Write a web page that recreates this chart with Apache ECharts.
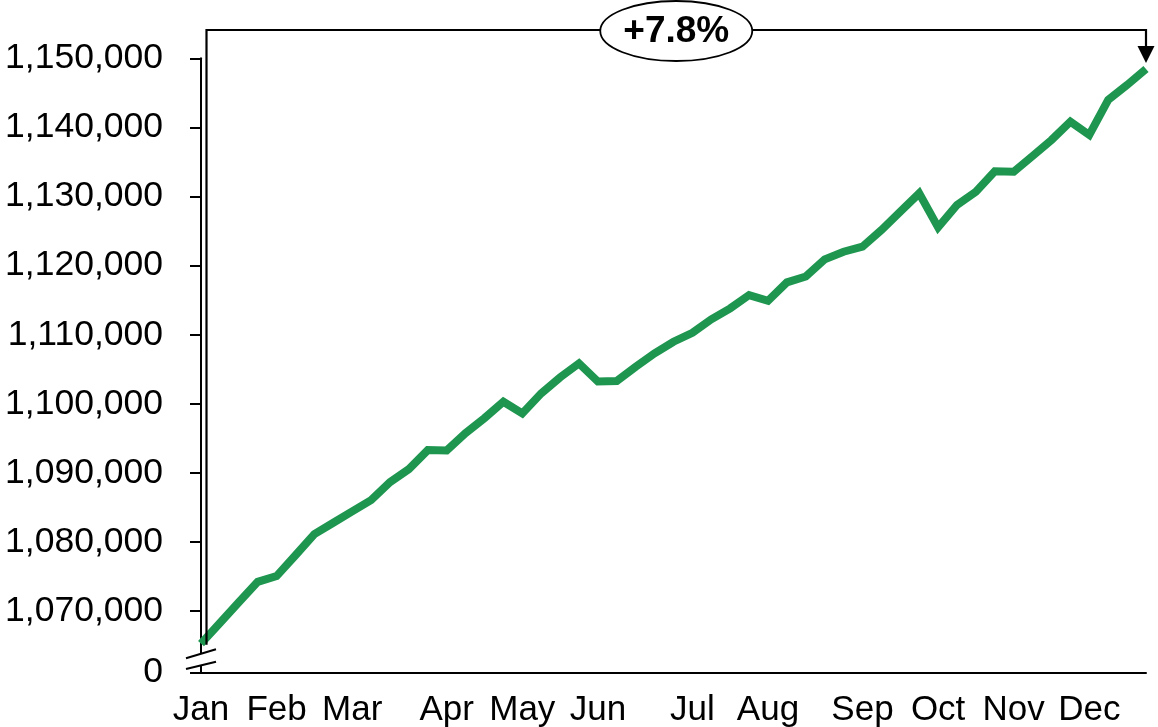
<!DOCTYPE html>
<html><head><meta charset="utf-8">
<script src="https://cdn.jsdelivr.net/npm/echarts@6/dist/echarts.min.js"></script>
<style>html,body{margin:0;padding:0;background:#fff}#c{width:1158px;height:727px}</style>
</head><body><div id="c"></div>
<script>
// Weekly values (51 weeks)
const values = [
  1065300, 1068300, 1071300, 1074250, 1075080, 1078100, 1081160, 1082800, 1084440, 1086080,
  1088680, 1090560, 1093310, 1093250, 1095770, 1097940, 1100300, 1098620, 1101520, 1103830,
  1105860, 1103230, 1103300, 1105370, 1107310, 1108990, 1110290, 1112230, 1113820, 1115740,
  1114920, 1117580, 1118420, 1120910, 1122010, 1122740, 1125150, 1127800, 1130460, 1125540,
  1128770, 1130690, 1133650, 1133590, 1135860, 1138180, 1140820, 1138900, 1143970, 1146140,
  1148450
];
const monthLabels = ['Jan','Feb','Mar','Apr','May','Jun','Jul','Aug','Sep','Oct','Nov','Dec'];
const monthWeekIndex = [0, 4, 8, 13, 17, 21, 26, 30, 35, 39, 43, 47];
const yTickValues = [1070000, 1080000, 1090000, 1100000, 1110000, 1120000, 1130000, 1140000, 1150000];
const yAxisBottom = 1061100; // drawn as "0" on the broken axis
const yAxisTop = 1150000;

const FONT = '"Liberation Sans", Arial, sans-serif';
const chart = echarts.init(document.getElementById('c'), null, {renderer: 'canvas'});
const seriesData = values.map((v, i) => [i, v]);
const yLabelValues = [yAxisBottom].concat(yTickValues);

chart.setOption({
  animation: false,
  backgroundColor: '#fff',
  grid: {left: 201, right: 12, top: 58.3, bottom: 54.3, containLabel: false, outerBoundsMode: 'none'},
  xAxis: {
    type: 'value', min: 0, max: values.length - 1,
    splitLine: {show: false},
    axisLine: {show: true, lineStyle: {color: '#000', width: 2}},
    axisTick: {show: false},
    axisLabel: {
      customValues: monthWeekIndex,
      formatter: v => { const k = monthWeekIndex.indexOf(v); return k >= 0 ? monthLabels[k] : ''; },
      color: '#000', fontSize: 35, fontFamily: FONT, margin: 20
    }
  },
  yAxis: {
    type: 'value', min: yAxisBottom, max: yAxisTop,
    splitLine: {show: false},
    axisLine: {show: true, lineStyle: {color: '#000', width: 2}},
    axisTick: {show: true, customValues: yLabelValues, length: 11, lineStyle: {color: '#000', width: 2}},
    axisLabel: {
      customValues: yLabelValues,
      formatter: v => v === yAxisBottom ? '0' : v.toLocaleString('en-US'),
      color: '#000', fontSize: 35.5, fontFamily: FONT, margin: 38, padding: [6, 0, 0, 0]
    }
  },
  series: [{
    type: 'line', data: seriesData, symbol: 'none', clip: false,
    lineStyle: {color: '#1E9650', width: 8, join: 'miter'}
  }]
});

const p0 = chart.convertToPixel({gridIndex: 0}, [0, values[0]]);
const p1 = chart.convertToPixel({gridIndex: 0}, [values.length - 1, values[values.length - 1]]);
const pb = chart.convertToPixel({gridIndex: 0}, [0, yAxisBottom]);
const ax = pb[0], yb = pb[1];
const bx = p0[0] + 5.5;
const topY = 30;
const pct = ((values[values.length - 1] / values[0] - 1) * 100).toFixed(1);
const cx = (bx + p1[0]) / 2;

chart.setOption({
  graphic: [
    {type: 'polyline', z: 100, shape: {points: [[bx, p0[1] + 1], [bx, topY], [p1[0], topY], [p1[0], p1[1] - 21]]},
     style: {stroke: '#000', lineWidth: 2.2, fill: null}},
    {type: 'polygon', z: 100, shape: {points: [[p1[0] - 8.5, p1[1] - 23], [p1[0] + 8.5, p1[1] - 23], [p1[0], p1[1] - 6]]},
     style: {fill: '#000'}},
    {type: 'ellipse', z: 101, shape: {cx: cx, cy: 31, rx: 76, ry: 30},
     style: {fill: '#fff', stroke: '#000', lineWidth: 1.8}},
    {type: 'text', z: 102, x: cx, y: 32,
     style: {text: '+' + pct + '%', font: 'bold 37px ' + FONT, fill: '#000', align: 'center', verticalAlign: 'middle'}},
    {type: 'polygon', z: 100, shape: {points: [[ax - 15, yb - 14.4], [ax + 15, yb - 23.4], [ax + 15, yb - 11], [ax - 15, yb - 3.7]]},
     style: {fill: '#fff'}},
    {type: 'line', z: 101, shape: {x1: ax - 15, y1: yb - 14.4, x2: ax + 15, y2: yb - 23.4}, style: {stroke: '#000', lineWidth: 2}},
    {type: 'line', z: 101, shape: {x1: ax - 15, y1: yb - 3.7, x2: ax + 15, y2: yb - 11}, style: {stroke: '#000', lineWidth: 2}}
  ]
});
</script>
</body></html>
